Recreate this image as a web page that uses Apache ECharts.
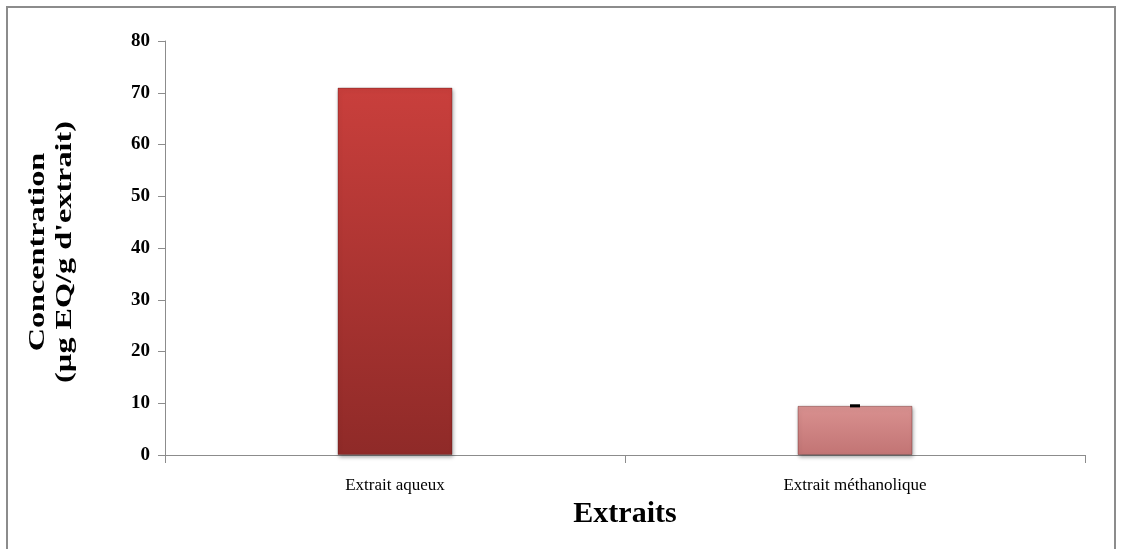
<!DOCTYPE html>
<html><head><meta charset="utf-8">
<script src="https://cdn.jsdelivr.net/npm/echarts@6/dist/echarts.min.js"></script>
<style>html,body{margin:0;padding:0;background:#fff}#c{width:1122px;height:549px}</style>
</head><body><div id="c"></div>
<script>
const categories = ['Extrait aqueux', 'Extrait méthanolique'];
const values = [71, 9.5];
const errors = [0, 0.3];
const yTicks = [0, 10, 20, 30, 40, 50, 60, 70, 80];
const yAxisTitle = 'Concentration\n(µg EQ/g d\'extrait)';
const xAxisTitle = 'Extraits';

const barColors = [
  {top: '#c93f3c', bottom: '#8f2a28'},
  {top: '#d99190', bottom: '#c27474'}
];

const chart = echarts.init(document.getElementById('c'));
const serif = '"Liberation Serif", "DejaVu Serif", serif';
chart.setOption({
  animation: false,
  graphic: [
    {type: 'rect', shape: {x: 7, y: 7, width: 1108, height: 560}, style: {fill: 'none', stroke: '#8c8c8c', lineWidth: 2}},
    {type: 'text', x: 52, y: 252, rotation: Math.PI / 2, scaleX: 1.4,
      style: {text: yAxisTitle, font: 'bold 23px ' + serif, fill: '#000', textAlign: 'center', textVerticalAlign: 'middle', lineHeight: 27}}
  ],
  grid: {left: 165, right: 37, top: 41, bottom: 94},
  xAxis: {
    type: 'category', data: categories,
    axisLine: {lineStyle: {color: '#8c8c8c'}},
    axisTick: {show: true, length: 8, lineStyle: {color: '#8c8c8c'}},
    axisLabel: {fontFamily: serif, fontSize: 17, color: '#000', margin: 22},
    name: xAxisTitle, nameLocation: 'middle', nameGap: 40,
    nameTextStyle: {fontFamily: serif, fontWeight: 'bold', fontSize: 30, color: '#000'}
  },
  yAxis: {
    type: 'value', min: yTicks[0], max: yTicks[yTicks.length - 1], interval: 10,
    splitLine: {show: false},
    axisLine: {show: true, lineStyle: {color: '#8c8c8c'}},
    axisTick: {show: true, length: 7, lineStyle: {color: '#8c8c8c'}},
    axisLabel: {fontFamily: serif, fontWeight: 'bold', fontSize: 19, color: '#000', margin: 15}
  },
  series: [{
    type: 'bar', barWidth: '25%',
    data: values.map((v, i) => ({
      value: v,
      itemStyle: {
        color: {type: 'linear', x: 0, y: 0, x2: 0, y2: 1, colorStops: [
          {offset: 0, color: barColors[i].top}, {offset: 1, color: barColors[i].bottom}]},
        borderColor: 'rgba(80,20,20,0.35)', borderWidth: 1,
        shadowColor: 'rgba(0,0,0,0.35)', shadowBlur: 4, shadowOffsetX: 1, shadowOffsetY: 2
      }
    }))
  }, {
    type: 'custom',
    data: values.map((v, i) => [i, v, errors[i]]),
    renderItem: function (params, api) {
      const err = api.value(2);
      if (!err) return null;
      const hi = api.coord([api.value(0), api.value(1) + err]);
      const lo = api.coord([api.value(0), api.value(1) - err]);
      return {type: 'rect', shape: {x: hi[0] - 5, y: hi[1], width: 10, height: Math.max(3, lo[1] - hi[1])}, style: {fill: '#000'}};
    },
    z: 5
  }]
});
</script></body></html>
